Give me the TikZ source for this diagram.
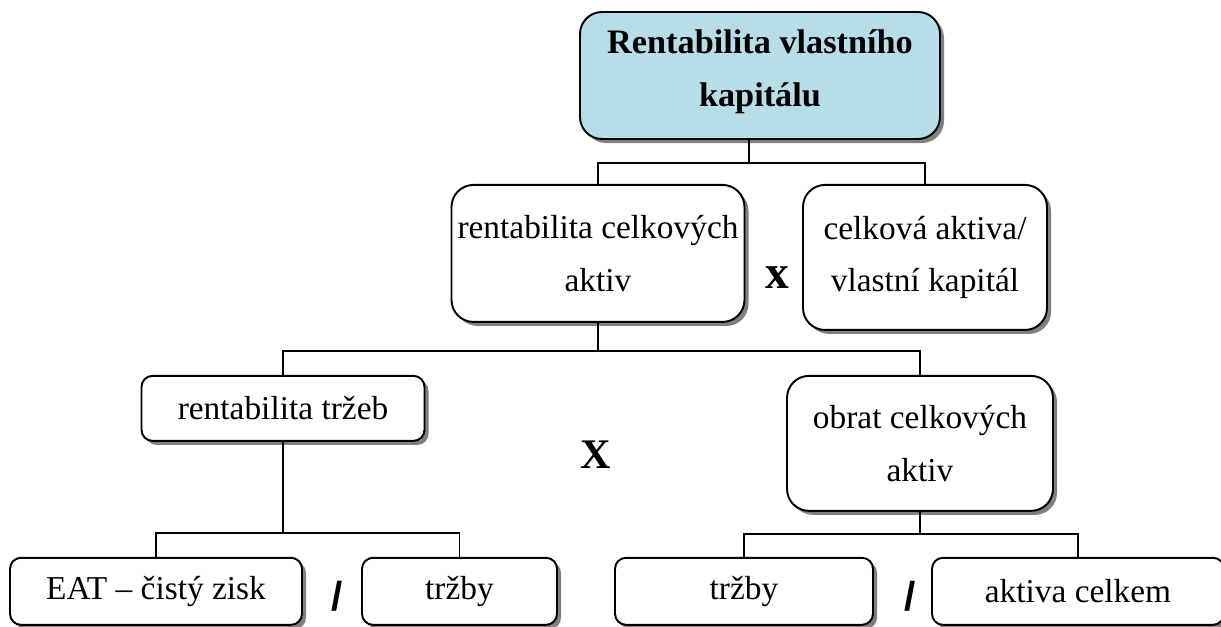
\documentclass[tikz,border=0pt]{standalone}
\usepackage{fontspec}
\setmainfont{Liberation Serif}
\newfontfamily\slashfont{Liberation Sans}
\usetikzlibrary{positioning, shadows}
\definecolor{headblue}{HTML}{B7DDE8}
\newcommand{\boxfont}{\fontsize{19}{30}\selectfont}

\begin{document}
\begin{tikzpicture}[
        box/.style={rectangle, rounded corners=0.22cm, draw=black, line width=1.1pt, fill=white, align=center, inner sep=2pt, font=\boxfont, drop shadow={shadow xshift=0.08cm, shadow yshift=-0.08cm, fill=black!50, opacity=1}},
        bigbox/.style={box, rounded corners=0.44cm},
        headbox/.style={bigbox, fill=headblue, font=\fontsize{19.5}{30}\selectfont\bfseries},
        opsign/.style={font=\fontsize{27}{27}\selectfont\bfseries, inner sep=0pt},
        divsign/.style={font=\slashfont\fontsize{23}{23}\selectfont\bfseries, inner sep=0pt},
        conn/.style={line width=1.1pt}
    ]
        \useasboundingbox (0,0) rectangle (24.42,-12.52);

        % Level 1: ROE
        \node (roe) [headbox, minimum width=7.2cm, minimum height=2.54cm, text depth=0.3cm] at (15.2,-1.51) {Rentabilita vlastního\\kapitálu};

        % Level 2
        \node (rca) [bigbox, minimum width=5.86cm, minimum height=2.74cm, below=0.88cm of roe, xshift=-3.24cm] {rentabilita celkových\\aktiv};
        \node (cavk) [bigbox, minimum width=4.88cm, minimum height=2.9cm, below=0.88cm of roe, xshift=3.3cm] {celková aktiva/\\vlastní kapitál};
        \node (times1) [opsign] at (15.54,-5.55) {x};

        % Level 3
        \node (rt) [box, minimum width=5.66cm, minimum height=1.3cm, below=1.04cm of rca, xshift=-6.3cm] {rentabilita tržeb};
        \node (oca) [bigbox, minimum width=5.32cm, minimum height=2.7cm, below=1.04cm of rca, xshift=6.44cm] {obrat celkových\\aktiv};
        \node (times2) [opsign, font=\fontsize{24}{24}\selectfont\bfseries] at (11.92,-9.1) {X};

        % Level 4
        \node (eat) [box, minimum width=5.84cm, minimum height=1.34cm, below=2.3cm of rt, xshift=-2.54cm] {EAT – čistý zisk};
        \node (trz1) [box, minimum width=3.9cm, minimum height=1.34cm, below=2.3cm of rt, xshift=3.53cm] {tržby};
        \node (trz2) [box, minimum width=5.16cm, minimum height=1.34cm, below=0.9cm of oca, xshift=-3.52cm] {tržby};
        \node (ac) [box, minimum width=5.84cm, minimum height=1.34cm, below=0.9cm of oca, xshift=3.16cm] {aktiva celkem};
        \node (div1) [divsign] at (6.74,-11.92) {/};
        \node (div2) [divsign] at (18.2,-11.92) {/};

        % Connectors
        \draw [conn] ([xshift=-0.22cm]roe.south) -- ++(0,-0.46) coordinate (j1);
        \draw [conn] (rca.north) |- (j1) -| (cavk.north);
        \draw [conn] (rca.south) -- ++(0,-0.56) coordinate (j2);
        \draw [conn] (rt.north) |- (j2) -| (oca.north);
        \draw [conn] (rt.south) -- ++(0,-1.82) coordinate (j3);
        \draw [conn] (eat.north) |- (j3) -| (trz1.north);
        \draw [conn] (oca.south) -- ++(0,-0.44) coordinate (j4);
        \draw [conn] (trz2.north) |- (j4) -| (ac.north);

    \end{tikzpicture}
\end{document}
